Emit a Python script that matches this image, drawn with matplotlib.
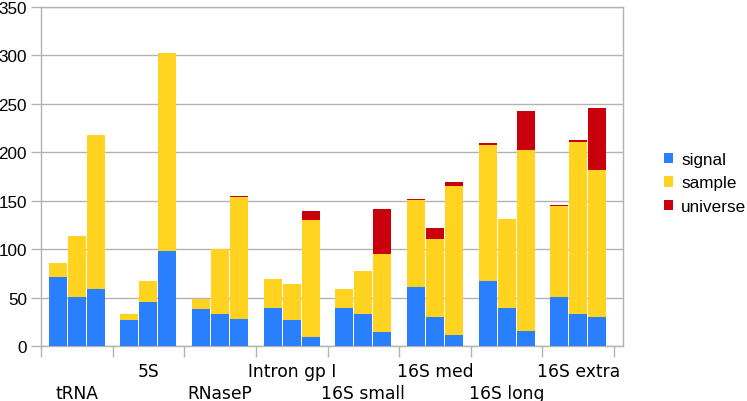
import matplotlib
matplotlib.use("Agg")
import matplotlib.pyplot as plt
from matplotlib.patches import Patch
from matplotlib.transforms import blended_transform_factory
import numpy as np

categories = ["tRNA", "5S", "RNaseP", "Intron gp I", "16S small", "16S med", "16S long", "16S extra"]
series_names = ["signal", "sample", "universe"]

# three bars per category (stack totals)
signal = [71, 51, 59,   27, 46, 98,   38, 33, 28,   39, 27.5, 10,
          39.5, 33.6, 14.4,   60.7, 30.5, 11.3,   67.5, 39.5, 15.8,   50.8, 33.6, 30.5]
sample_top = [86, 114, 218,   33, 67.5, 302,   48.3, 100.5, 154,   69.3, 64.5, 129.6,
              59, 78, 94.6,   150.5, 110.7, 165.5,   207.7, 131, 202.6,   144.3, 210, 182]
universe_top = [86, 114, 218,   33, 67.5, 302,   48.3, 100.5, 155,   69.3, 64.5, 139.5,
                59, 78, 141,   151.8, 122, 169,   209, 131, 242.7,   145.4, 212.8, 245.4]

colors = ["#2a7fff", "#ffd320", "#c9000b"]
grid_c = "#b3b3b3"

sig = np.array(signal)
samp = np.array(sample_top) - sig
univ = np.array(universe_top) - np.array(sample_top)

fig = plt.figure(figsize=(7.47, 4.02), dpi=100)
ax = fig.add_axes([41/747, 1-347.3/402, (623-41)/747, (347.3-7.5)/402])

n = len(categories)
offsets = np.array([-1, 0, 1]) * 0.2653
xs = np.concatenate([i + 0.5 + offsets for i in range(n)])
w = 0.25
ax.bar(xs, sig, w, color=colors[0], edgecolor="none", zorder=3)
ax.bar(xs, samp, w, bottom=sig, color=colors[1], edgecolor="none", zorder=3)
ax.bar(xs, univ, w, bottom=sig + samp, color=colors[2], edgecolor="none", zorder=3)

ax.set_xlim(0, 582/71.625)
ax.set_ylim(0, 350)
ax.set_yticks(np.arange(0, 351, 50))
ax.yaxis.grid(True, color=grid_c, lw=1.0, zorder=0)
ax.set_axisbelow(True)
ax.set_xticks(np.arange(0, n + 1))
ax.set_xticklabels([])
ax.tick_params(axis="x", length=8, width=1, color=grid_c)
ax.tick_params(axis="y", length=7, width=1, color=grid_c, pad=3, labelsize=12.3)
for lab in ax.get_yticklabels():
    lab.set_fontfamily("Liberation Sans")
for s in ax.spines.values():
    s.set_color(grid_c)
    s.set_linewidth(1.0)

trans = blended_transform_factory(ax.transData, ax.transAxes)
for i, c in enumerate(categories):
    off = -27 if i % 2 == 0 else -11
    ax.annotate(c, xy=(i + 0.5, 0), xycoords=trans, xytext=(0, off),
                textcoords="offset points", ha="center", va="top",
                fontsize=12.3, family="DejaVu Sans")

handles = [Patch(facecolor=col, edgecolor="none") for col in colors]
fig.legend(handles, series_names, loc="center left", bbox_to_anchor=(664/747, 1 - 184/402),
           frameon=False, prop={"family": "Liberation Sans", "size": 12.3},
           handlelength=0.55, handleheight=0.55, handletextpad=0.45, labelspacing=0.5,
           borderaxespad=0, borderpad=0)

fig.savefig("out.png", dpi=100)
